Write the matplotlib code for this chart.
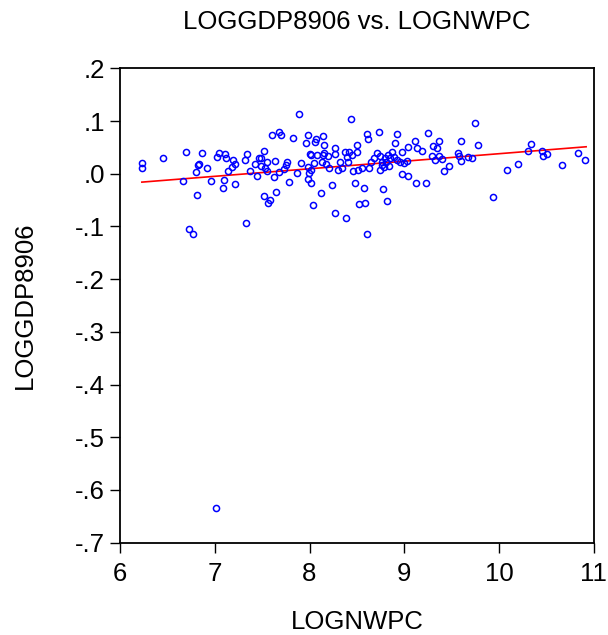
import matplotlib.pyplot as plt

plt.rcParams['font.family'] = ['Liberation Sans', 'DejaVu Sans']

# scatter data (LOGNWPC, LOGGDP8906)
lognwpc = [6.236, 6.236, 6.458, 6.698, 6.662, 6.804, 6.811, 6.726, 6.772, 6.821,
           6.860, 6.832, 6.921, 6.956, 7.040, 7.022, 7.111, 7.114, 7.188, 7.217,
           7.181, 7.143, 7.096, 7.090, 7.213, 7.315, 7.340, 7.371, 7.421, 7.450,
           7.463, 7.488, 7.520, 7.556, 7.492, 7.527, 7.556, 7.636, 7.625, 7.651,
           7.524, 7.580, 7.566, 7.326, 7.601, 7.678, 7.884, 8.437, 7.704, 7.826,
           7.979, 7.964, 8.056, 8.063, 8.141, 8.154, 8.268, 8.003, 8.011, 8.080,
           8.148, 8.144, 8.190, 8.268, 8.374, 8.416, 8.497, 8.500, 8.395, 8.451,
           8.402, 8.324, 8.127, 8.169, 8.046, 7.908, 7.760, 7.752, 7.675, 7.731,
           7.866, 7.989, 8.014, 7.993, 8.204, 8.296, 8.339, 8.461, 8.511, 7.989,
           8.011, 7.778, 8.233, 8.479, 8.120, 8.038, 8.268, 8.384, 8.522, 8.737,
           8.603, 8.617, 8.927, 8.906, 9.252, 9.114, 9.040, 9.132, 9.188, 9.302,
           9.344, 9.365, 8.974, 8.871, 8.709, 8.684, 8.646, 8.747, 8.797, 8.832,
           8.850, 8.895, 8.921, 8.956, 9.001, 9.030, 8.762, 8.807, 8.762, 8.789,
           8.744, 8.842, 9.291, 9.329, 9.365, 8.550, 8.624, 8.974, 9.043, 9.128,
           9.231, 8.571, 8.776, 8.818, 8.585, 8.606, 9.746, 9.594, 9.778, 9.569,
           9.583, 9.400, 9.594, 9.672, 9.710, 9.474, 9.418, 10.085, 10.201, 9.937,
           10.334, 10.310, 10.455, 10.469, 10.504, 10.670, 10.836, 10.906, 7.008]
loggdp8906 = [0.021, 0.010, 0.030, 0.042, -0.013, 0.004, -0.041, -0.104, -0.115, 0.017,
              0.039, 0.018, 0.011, -0.013, 0.040, 0.032, 0.038, 0.030, 0.026, 0.018,
              0.013, 0.006, -0.011, -0.027, -0.019, 0.027, 0.037, 0.006, 0.018, -0.004,
              0.030, 0.030, 0.044, 0.023, 0.014, 0.011, 0.006, 0.025, -0.006, -0.034,
              -0.043, -0.049, -0.055, -0.093, 0.074, 0.080, 0.114, 0.104, 0.074, 0.068,
              0.074, 0.058, 0.061, 0.065, 0.071, 0.055, 0.048, 0.037, 0.035, 0.035,
              0.040, 0.035, 0.034, 0.037, 0.041, 0.041, 0.054, 0.041, 0.032, 0.035,
              0.023, 0.023, 0.022, 0.018, 0.020, 0.021, 0.022, 0.017, 0.004, 0.009,
              0.001, 0.012, 0.007, 0.002, 0.010, 0.008, 0.011, 0.005, 0.008, -0.010,
              -0.018, -0.015, -0.021, -0.017, -0.037, -0.059, -0.074, -0.084, -0.058, 0.080,
              0.075, 0.065, 0.075, 0.058, 0.077, 0.063, 0.050, 0.048, 0.044, 0.052,
              0.048, 0.063, 0.042, 0.042, 0.039, 0.030, 0.022, 0.034, 0.030, 0.036,
              0.030, 0.032, 0.027, 0.022, 0.020, 0.025, 0.023, 0.023, 0.017, 0.013,
              0.008, 0.014, 0.033, 0.027, 0.034, 0.011, 0.010, 0.000, -0.004, -0.017,
              -0.017, -0.027, -0.029, -0.051, -0.055, -0.115, 0.096, 0.063, 0.055, 0.039,
              0.033, 0.028, 0.025, 0.031, 0.029, 0.014, 0.005, 0.008, 0.019, -0.044,
              0.057, 0.044, 0.044, 0.034, 0.038, 0.016, 0.039, 0.026, -0.635]

# fitted regression line
fit_x = [6.23, 10.92]
fit_intercept = -0.105
fit_slope = 0.0143

xticks = [6, 7, 8, 9, 10, 11]
yticks = [0.2, 0.1, 0.0, -0.1, -0.2, -0.3, -0.4, -0.5, -0.6, -0.7]
ytick_labels = ['.2', '.1', '.0', '-.1', '-.2', '-.3', '-.4', '-.5', '-.6', '-.7']

fig = plt.figure(figsize=(6.08, 6.35), dpi=100)
ax = fig.add_axes([0.1975, 0.1454, 0.779, 0.747])

ax.plot(lognwpc, loggdp8906, 'o', mfc='none', mec='#0000ff', ms=4.4, mew=1.1, zorder=3)
fit_y = [fit_intercept + fit_slope * v for v in fit_x]
ax.plot(fit_x, fit_y, color='#ff0000', lw=1.2, zorder=2)

ax.set_xlim(6, 11)
ax.set_ylim(-0.7, 0.2)
ax.set_xticks(xticks)
ax.set_yticks(yticks)
ax.set_yticklabels(ytick_labels)

fs = 18.5
for s in ax.spines.values():
    s.set_linewidth(1.3)
ax.tick_params(direction='out', length=7, width=1, labelsize=fs, top=False, right=False)
ax.tick_params(axis='x', pad=7)
ax.tick_params(axis='y', pad=4)

ax.set_xlabel('LOGNWPC', fontsize=fs, labelpad=17)
ax.set_ylabel('LOGGDP8906', fontsize=fs, labelpad=27)
ax.set_title('LOGGDP8906 vs. LOGNWPC', fontsize=fs, pad=28)

fig.savefig('out.png', dpi=100)
